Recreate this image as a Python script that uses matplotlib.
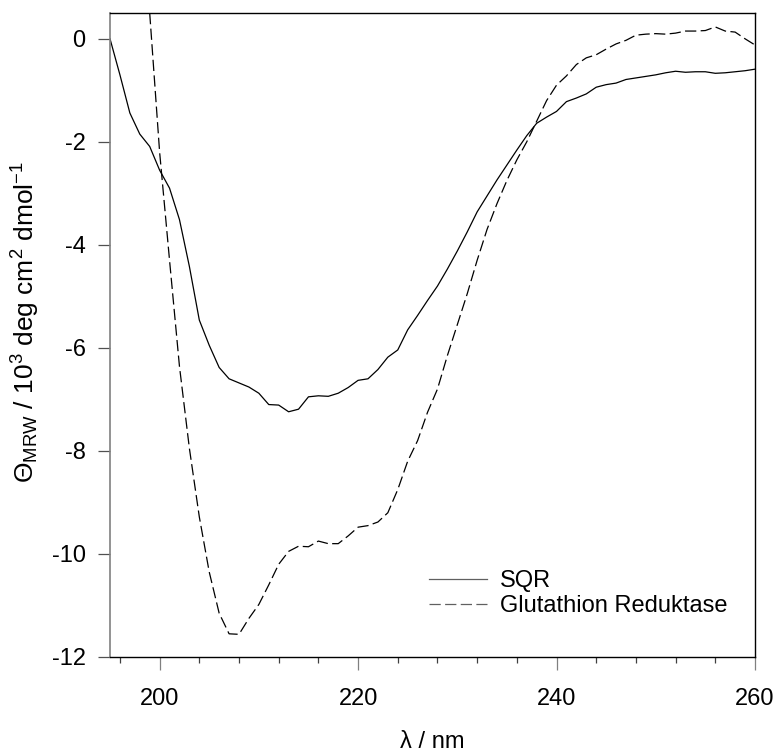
import numpy as np
import matplotlib
matplotlib.use("Agg")
import matplotlib.pyplot as plt
from matplotlib.ticker import MultipleLocator

plt.rcParams['font.family'] = ['Liberation Sans', 'DejaVu Sans']
plt.rcParams['mathtext.fontset'] = 'custom'
plt.rcParams['mathtext.rm'] = 'Liberation Sans'
plt.rcParams['mathtext.it'] = 'Liberation Sans:italic'
plt.rcParams['axes.unicode_minus'] = False

# SQR, every 1 nm from 195 to 260
sqr_wl = np.arange(195, 261)
sqr_theta = [0.0, -0.7, -1.44, -1.85, -2.09, -2.55, -2.9, -3.51, -4.42, -5.46,
             -5.95, -6.38, -6.6, -6.68, -6.76, -6.88, -7.1, -7.11, -7.24, -7.19,
             -6.95, -6.93, -6.94, -6.88, -6.77, -6.63, -6.6, -6.42, -6.18, -6.04,
             -5.65, -5.37, -5.08, -4.8, -4.47, -4.12, -3.75, -3.36, -3.05, -2.74,
             -2.45, -2.16, -1.88, -1.64, -1.52, -1.41, -1.22, -1.15, -1.07, -0.94,
             -0.89, -0.86, -0.79, -0.76, -0.73, -0.70, -0.66, -0.63, -0.65, -0.64,
             -0.64, -0.67, -0.66, -0.64, -0.62, -0.59]

# Glutathion Reduktase, every 1 nm from 199 to 260
gr_wl = np.arange(199, 261)
gr_theta = [0.5, -2.2, -4.3, -6.36, -7.95, -9.28, -10.35, -11.15, -11.55, -11.56,
            -11.25, -10.98, -10.6, -10.2, -9.95, -9.85, -9.86, -9.75, -9.8, -9.8,
            -9.65, -9.48, -9.45, -9.38, -9.2, -8.75, -8.2, -7.8, -7.25, -6.8,
            -6.15, -5.55, -4.95, -4.3, -3.7, -3.2, -2.75, -2.35, -2.0, -1.6,
            -1.2, -0.9, -0.72, -0.5, -0.37, -0.31, -0.2, -0.1, -0.03, 0.07,
            0.09, 0.1, 0.09, 0.11, 0.15, 0.15, 0.16, 0.23, 0.15, 0.13,
            0.0, -0.12]

fig = plt.figure(figsize=(7.78, 7.53), dpi=100)
ax = fig.add_axes([0.1414, 0.1275, 0.829, 0.8552])

ax.plot(sqr_wl, sqr_theta, color='black', lw=0.9, label='SQR')
ax.plot(gr_wl, gr_theta, color='black', lw=0.9, dashes=(9, 3.5),
        label='Glutathion Reduktase')

ax.set_xlim(195, 260)
ax.set_ylim(-12, 0.5)
ax.xaxis.set_major_locator(MultipleLocator(20))
ax.xaxis.set_minor_locator(MultipleLocator(4))
ax.yaxis.set_major_locator(MultipleLocator(2))

for s in ['top', 'right', 'bottom']:
    ax.spines[s].set_color('black')
    ax.spines[s].set_linewidth(1.0)
ax.spines['left'].set_color('#808080')
ax.spines['left'].set_linewidth(1.2)

ax.tick_params(axis='y', which='major', direction='out', length=8.6, width=0.9,
               color='#505050', labelsize=17, pad=9)
ax.tick_params(axis='x', which='major', direction='out', length=9.4, width=0.9,
               color='#808080', labelsize=17, pad=13)
ax.tick_params(axis='x', which='minor', direction='out', length=4.3, width=0.9,
               color='#404040')

ax.set_xlabel('λ / nm', fontsize=17, labelpad=15)
ax.set_ylabel(r'$\Theta_{\mathrm{MRW}}$ / 10$^{3}$ deg cm$^{2}$ dmol$^{-1}$',
              fontsize=19)
ax.yaxis.set_label_coords(-0.105, 0.52)

leg = ax.legend(loc='lower right', bbox_to_anchor=(0.975, 0.044), frameon=False,
                fontsize=17, handlelength=2.45, handletextpad=0.55,
                borderpad=0, labelspacing=0.1)
for h in leg.get_lines():
    h.set_color('#606060')

fig.savefig('out.png', dpi=100)
